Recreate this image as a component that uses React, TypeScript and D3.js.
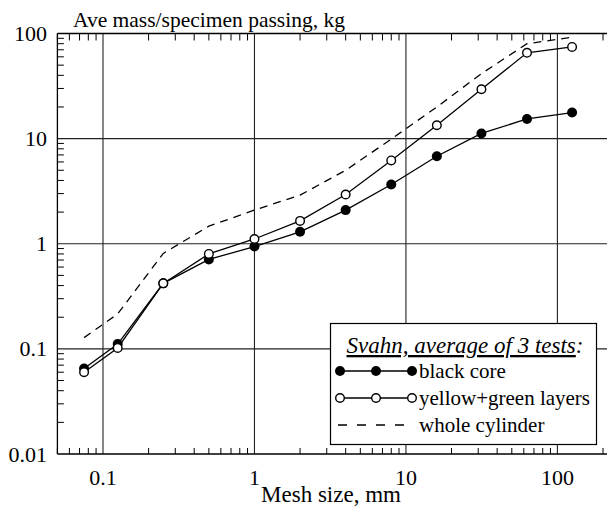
import React from "react";
import * as d3 from "d3";

// Sieve sizes (mm) and average mass passing (kg)
const meshSizes = [0.075, 0.125, 0.25, 0.5, 1, 2, 4, 8, 16, 31.5, 63, 125];
const blackCore = [0.065, 0.111, 0.42, 0.71, 0.94, 1.3, 2.09, 3.66, 6.8, 11.2, 15.4, 17.7];
const yellowGreen = [0.06, 0.102, 0.42, 0.8, 1.11, 1.65, 2.94, 6.2, 13.4, 29.5, 65.5, 74.5];
const wholeCylinder = [0.128, 0.215, 0.81, 1.47, 2.09, 2.9, 5.0, 9.9, 20, 41.5, 80, 92];

const xMajorTicks = [0.1, 1, 10, 100];
const yMajorTicks = [0.01, 0.1, 1, 10, 100];
const xTickLabels = ["0.1", "1", "10", "100"];
const yTickLabels = ["0.01", "0.1", "1", "10", "100"];

const yAxisTitle = "Ave mass/specimen passing, kg";
const xAxisTitle = "Mesh size, mm";
const legendTitle = "Svahn, average of 3 tests";
const seriesNames = ["black core", "yellow+green layers", "whole cylinder"];

const W = 607;
const H = 506;
const FONT = "Liberation Serif";
const font = (size: number) => ({ fontFamily: FONT, fontSize: size + "px" });

export default function App() {
  const x = d3.scaleLog().domain([0.05, 200]).range([57.4, 603]);
  const y = d3.scaleLog().domain([0.01, 100]).range([454, 33.5]);

  const left = x(0.05);
  const top = y(100);
  const bottom = y(0.01);

  // minor ticks: 2..9 within each decade
  const xMinor: number[] = [];
  for (let p = -2; p <= 2; p++) {
    for (let m = 2; m <= 9; m++) {
      const v = m * Math.pow(10, p);
      if (v >= 0.05 && v <= 200 && !xMajorTicks.includes(v)) xMinor.push(v);
    }
  }
  const yMinor: number[] = [];
  for (let p = -2; p <= 1; p++) {
    for (let m = 2; m <= 9; m++) yMinor.push(m * Math.pow(10, p));
  }

  const line = d3
    .line<[number, number]>()
    .x((d) => x(d[0]))
    .y((d) => y(d[1]));

  const zip = (vals: number[]) => meshSizes.map((m, i) => [m, vals[i]] as [number, number]);

  const lx = 330.5;
  const ly = 323.5;
  const lw = 266;
  const lh = 121;
  const rowY = [371, 398, 425];
  const sampleX = [340, 376, 412];

  return (
    <svg
      width={W}
      height={H}
      style={{ position: "absolute", left: 0, top: 0, background: "#fff", fontFamily: FONT }}
    >
      <rect x={0} y={0} width={W} height={H} fill="#fff" />

      {/* grid lines at decades */}
      {xMajorTicks.map((v) => (
        <line key={"gx" + v} x1={x(v)} x2={x(v)} y1={top} y2={bottom} stroke="#222" strokeWidth={1.1} />
      ))}
      {[0.1, 1, 10].map((v) => (
        <line key={"gy" + v} x1={left} x2={W} y1={y(v)} y2={y(v)} stroke="#222" strokeWidth={1.1} />
      ))}

      {/* frame */}
      <line x1={left} x2={W} y1={top} y2={top} stroke="#000" strokeWidth={1.3} />
      <line x1={left} x2={W} y1={bottom} y2={bottom} stroke="#000" strokeWidth={1.3} />
      <line x1={left} x2={left} y1={top} y2={bottom} stroke="#000" strokeWidth={1.3} />

      {/* minor ticks */}
      {xMinor.map((v) => (
        <g key={"mx" + v}>
          <line x1={x(v)} x2={x(v)} y1={bottom} y2={bottom - 6} stroke="#000" strokeWidth={1} />
          <line x1={x(v)} x2={x(v)} y1={top} y2={top + 7} stroke="#000" strokeWidth={1} />
        </g>
      ))}
      {yMinor.map((v) => (
        <line key={"my" + v} x1={left} x2={left + 6.5} y1={y(v)} y2={y(v)} stroke="#000" strokeWidth={1} />
      ))}

      {/* tick labels */}
      {xMajorTicks.map((v, i) => (
        <text key={"tx" + v} x={x(v)} y={485} style={font(22)} textAnchor="middle" fill="#000">
          {xTickLabels[i]}
        </text>
      ))}
      {yMajorTicks.map((v, i) => (
        <text key={"ty" + v} x={47} y={y(v) + 7.5} style={font(22)} textAnchor="end" fill="#000">
          {yTickLabels[i]}
        </text>
      ))}

      {/* axis titles */}
      <text x={73} y={27} style={font(21.5)} fill="#000">
        {yAxisTitle}
      </text>
      <text x={331} y={502} style={font(23)} textAnchor="middle" fill="#000">
        {xAxisTitle}
      </text>

      {/* series */}
      <path d={line(zip(wholeCylinder)) || ""} fill="none" stroke="#000" strokeWidth={1.3} strokeDasharray="8,6" />
      <path d={line(zip(yellowGreen)) || ""} fill="none" stroke="#000" strokeWidth={1.3} />
      <path d={line(zip(blackCore)) || ""} fill="none" stroke="#000" strokeWidth={1.3} />
      {zip(blackCore).map((d, i) => (
        <circle key={"b" + i} cx={x(d[0])} cy={y(d[1])} r={5} fill="#000" />
      ))}
      {zip(yellowGreen).map((d, i) => (
        <circle key={"o" + i} cx={x(d[0])} cy={y(d[1])} r={4.3} fill="#fff" stroke="#000" strokeWidth={1.4} />
      ))}

      {/* legend */}
      <rect x={lx} y={ly} width={lw} height={lh} fill="#fff" stroke="#000" strokeWidth={1.2} />
      <text x={465} y={353} style={{ ...font(23), fontStyle: "italic" }} textAnchor="middle" fill="#000">
        <tspan style={{ textDecoration: "underline" }}>{legendTitle}</tspan>
        <tspan>:</tspan>
      </text>

      <line x1={sampleX[0]} x2={sampleX[2]} y1={rowY[0]} y2={rowY[0]} stroke="#000" strokeWidth={1.3} />
      {sampleX.map((sx) => (
        <circle key={"lb" + sx} cx={sx} cy={rowY[0]} r={5} fill="#000" />
      ))}
      <line x1={sampleX[0]} x2={sampleX[2]} y1={rowY[1]} y2={rowY[1]} stroke="#000" strokeWidth={1.3} />
      {sampleX.map((sx) => (
        <circle key={"lo" + sx} cx={sx} cy={rowY[1]} r={4.3} fill="#fff" stroke="#000" strokeWidth={1.4} />
      ))}
      <line
        x1={sampleX[0] - 2}
        x2={sampleX[2] + 2}
        y1={rowY[2]}
        y2={rowY[2]}
        stroke="#000"
        strokeWidth={1.3}
        strokeDasharray="9,10"
      />
      {seriesNames.map((name, i) => (
        <text key={name} x={419} y={rowY[i] + 7} style={font(21)} fill="#000">
          {name}
        </text>
      ))}
    </svg>
  );
}
